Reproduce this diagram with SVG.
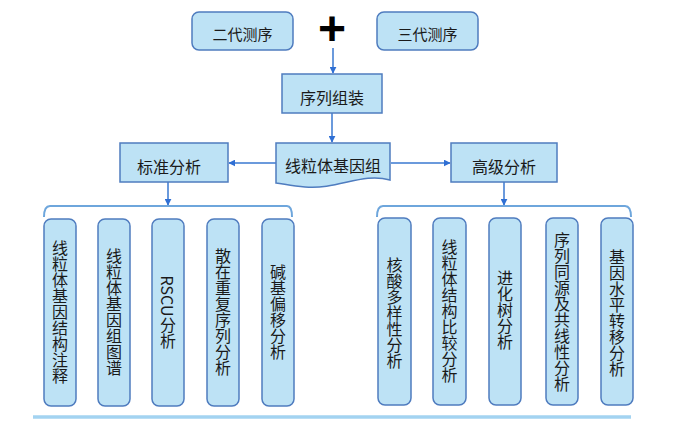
<svg xmlns="http://www.w3.org/2000/svg" width="676" height="429" viewBox="0 0 676 429">
<defs>
<style>
.box{fill:#bde2f5;stroke:#4f7cbf;stroke-width:1.5}
.t{font-family:"Noto Sans CJK SC","Liberation Sans",sans-serif;fill:#1a1a1a;text-anchor:middle;dominant-baseline:central}
.v{font-family:"Noto Sans CJK SC","Liberation Sans",sans-serif;fill:#1a1a1a;font-size:16px;writing-mode:vertical-rl;text-anchor:middle}
.arr{stroke:#3a78d0;stroke-width:1.5;fill:none;marker-end:url(#ah)}
.br{stroke:#6ea6dc;stroke-width:2;fill:none}
</style>
<marker id="ah" viewBox="0 0 10 10" refX="9" refY="5" markerWidth="7" markerHeight="7" markerUnits="userSpaceOnUse" orient="auto">
<path d="M0,0 L10,5 L0,10 Z" fill="#2f6fd4"/>
</marker>
</defs>
<rect width="676" height="429" fill="#ffffff"/>
<g id="connectors">
<line class="arr" x1="333" y1="48" x2="333" y2="73"/>
<line class="arr" x1="332" y1="113" x2="332" y2="142"/>
<line class="arr" x1="276" y1="163" x2="229" y2="163"/>
<line class="arr" x1="391" y1="163" x2="450" y2="163"/>
<line class="arr" x1="168" y1="182" x2="168" y2="205"/>
<line class="arr" x1="504" y1="182" x2="504" y2="205"/>
<path class="br" d="M44,217 Q44,206 50,206 H287 Q292,206 292,217"/>
<path class="br" d="M377,217 Q377,206 383,206 H625 Q631,206 631,217"/>
<line x1="33" y1="417" x2="631" y2="417" stroke="#a3d3f1" stroke-width="3.5"/>
</g>
<g id="n-ngs"><rect class="box" x="192" y="12" width="101" height="38" rx="7"/><text class="t" x="242.5" y="33" font-size="15">二代测序</text></g>
<g id="n-plus"><text x="332" y="45" font-family="Liberation Sans,sans-serif" font-weight="bold" font-size="48" text-anchor="middle" fill="#000">+</text></g>
<g id="n-tgs"><rect class="box" x="377" y="12" width="101" height="38" rx="7"/><text class="t" x="427.5" y="33" font-size="15">三代测序</text></g>
<g id="n-asm"><rect class="box" x="282" y="74" width="100" height="39"/><text class="t" x="332" y="97" font-size="16">序列组装</text></g>
<g id="n-genome"><path class="box" d="M276,143 H390 V180 C362,172 338,190 305,187 C292,186 284,184 276,183 Z"/><text class="t" x="333" y="165" font-size="16">线粒体基因组</text></g>
<g id="n-std"><rect class="box" x="120" y="143" width="108" height="39"/><text class="t" x="169" y="166" font-size="16">标准分析</text></g>
<g id="n-adv"><rect class="box" x="451" y="143" width="106" height="39"/><text class="t" x="504" y="166" font-size="16">高级分析</text></g>
<g id="n-l1"><rect class="box" x="44" y="219" width="32" height="187" rx="7"/><text class="v" x="60" y="312">线粒体基因结构注释</text></g>
<g id="n-l2"><rect class="box" x="98" y="219" width="32" height="187" rx="7"/><text class="v" x="114" y="312">线粒体基因组图谱</text></g>
<g id="n-l3"><rect class="box" x="152" y="219" width="32" height="187" rx="7"/><text class="v" x="168" y="312">RSCU分析</text></g>
<g id="n-l4"><rect class="box" x="207" y="219" width="32" height="187" rx="7"/><text class="v" x="223" y="312">散在重复序列分析</text></g>
<g id="n-l5"><rect class="box" x="262" y="219" width="32" height="187" rx="7"/><text class="v" x="278" y="312">碱基偏移分析</text></g>
<g id="n-r1"><rect class="box" x="378" y="218" width="33" height="187" rx="7"/><text class="v" x="394.5" y="313">核酸多样性分析</text></g>
<g id="n-r2"><rect class="box" x="433" y="218" width="33" height="187" rx="7"/><text class="v" x="449.5" y="311">线粒体结构比较分析</text></g>
<g id="n-r3"><rect class="box" x="489" y="218" width="32" height="187" rx="7"/><text class="v" x="505" y="310">进化树分析</text></g>
<g id="n-r4"><rect class="box" x="546" y="218" width="32" height="187" rx="7"/><text class="v" x="562" y="312">序列同源及共线性分析</text></g>
<g id="n-r5"><rect class="box" x="601" y="218" width="32" height="187" rx="7"/><text class="v" x="617" y="313">基因水平转移分析</text></g>
</svg>
